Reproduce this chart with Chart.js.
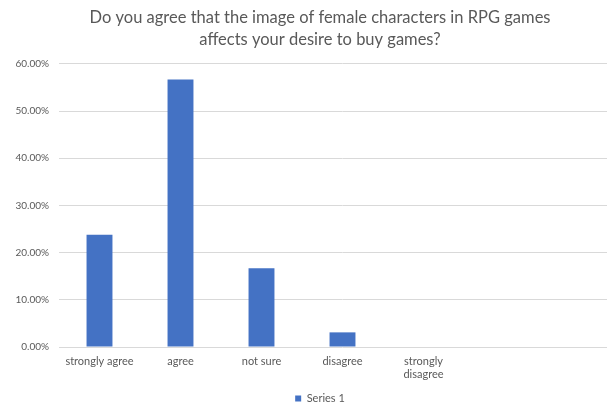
<!DOCTYPE html>
<html>
<head>
<meta charset="utf-8">
<script src="https://cdn.jsdelivr.net/npm/chart.js@4.4.1/dist/chart.umd.min.js"></script>
<style>
  html, body { margin: 0; padding: 0; background: #fff; overflow: hidden; }
  #wrap { position: relative; width: 642px; height: 406px; }
</style>
</head>
<body>
<div id="wrap"><canvas id="c"></canvas></div>
<script>
// Survey answers (last two slots of the axis are left empty)
const categories = ['strongly agree', 'agree', 'not sure', 'disagree', ['strongly', 'disagree'], '', ''];
const series1 = [23.8, 56.7, 16.7, 3.1, 0, null, null];
const yTicks = [0, 10, 20, 30, 40, 50, 60];

const grey = '#595959';
const gridGrey = '#d9d9d9';
const fontFamily = 'Lato, "Open Sans", sans-serif';

new Chart(document.getElementById('c'), {
  type: 'bar',
  data: {
    labels: categories,
    datasets: [{
      label: 'Series 1',
      data: series1,
      backgroundColor: '#4472C4',
      borderWidth: 0,
      categoryPercentage: 1,
      barPercentage: 0.32
    }]
  },
  options: {
    responsive: true,
    maintainAspectRatio: false,
    animation: false,
    layout: { padding: { left: 14, right: 16, top: 6, bottom: -8 } },
    plugins: {
      title: {
        display: true,
        text: ['Do you agree that the image of female characters in RPG games', 'affects your desire to buy games?'],
        color: grey,
        font: { family: fontFamily, size: 16.5, weight: 'normal', lineHeight: 1.36 },
        padding: { top: 0, bottom: 13 }
      },
      legend: {
        position: 'bottom',
        labels: {
          color: grey,
          font: { family: fontFamily, size: 11 },
          boxWidth: 6,
          boxHeight: 6,
          padding: 2
        }
      },
      tooltip: { enabled: false }
    },
    scales: {
      x: {
        afterFit: s => { s.height = 44; },
        grid: { display: false },
        border: { display: false },
        ticks: {
          color: grey,
          font: { family: fontFamily, size: 11 },
          maxRotation: 0,
          autoSkip: false,
          padding: 0
        }
      },
      y: {
        min: 0,
        max: 60,
        afterBuildTicks: s => { s.ticks = yTicks.map(v => ({ value: v })); },
        afterFit: s => { s.width = 45; },
        grid: { color: gridGrey, lineWidth: 1, drawTicks: false },
        border: { display: false },
        ticks: {
          color: grey,
          font: { family: fontFamily, size: 10 },
          padding: 10,
          callback: v => v.toFixed(2) + '%'
        }
      }
    }
  }
});
</script>
</body>
</html>
